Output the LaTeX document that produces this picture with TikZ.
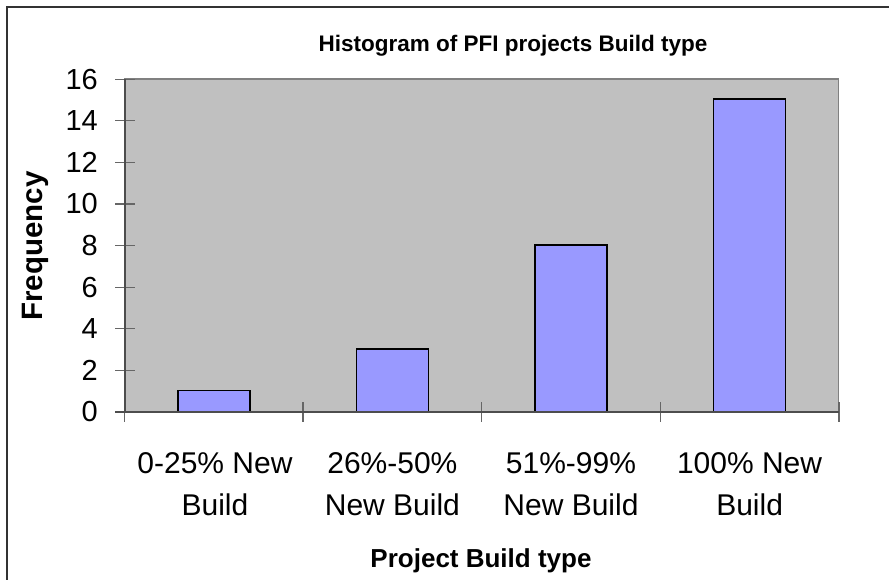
\documentclass[tikz,border=0pt]{standalone}
\usepackage{fontspec}
\setmainfont{Liberation Sans}
\definecolor{barblue}{HTML}{9999FF}
\definecolor{plotgray}{HTML}{C0C0C0}
\definecolor{bordergray}{HTML}{808080}
\definecolor{axisgray}{HTML}{4D4D4D}
\definecolor{tickgray}{HTML}{666666}
\definecolor{framegray}{HTML}{333333}
\begin{document}
\begin{tikzpicture}[x=1pt,y=-1pt,
  barbox/.style={draw=black, line width=1.5pt, fill=barblue, minimum width=72pt, inner sep=0pt, anchor=south},
  ticklbl/.style={anchor=east, inner sep=0pt, font=\fontsize{29}{34}\selectfont},
  catlbl/.style={anchor=base, inner sep=0pt, font=\fontsize{30}{36}\selectfont},
  axisline/.style={draw=axisgray, line width=1.3pt},
  tickline/.style={draw=tickgray, line width=1.3pt},
  boldlbl/.style={inner sep=0pt, font=\bfseries\fontsize{#1}{#1}\selectfont}
]
\pgfmathsetmacro{\u}{20.8}
\useasboundingbox (0,0) rectangle (889,580);
\fill[white] (0,0) rectangle (889,580);
% outer chart frame (cropped at right and bottom)
\draw[draw=framegray, line width=2pt] (7,580) -- (7,7) -- (889,7);
% plot area
\draw[fill=plotgray, draw=bordergray, line width=1.5pt] (125,{412-16*\u}) rectangle (838.5,412);
% y ticks and labels
\foreach \v in {0,2,...,16}{
  \draw[tickline] (115,{412-\v*\u}) -- (135,{412-\v*\u});
  \node[ticklbl] (y\v) at (98,{412-\v*\u}) {\v};
}
% x ticks
\foreach \i in {0,1,2,3,4}{
  \draw[tickline] ({124.5+\i*178.6},402) -- ({124.5+\i*178.6},422);
}
% bars
\node[barbox, minimum height={1*\u pt}]  (bar1) at (213.8,412) {};
\node[barbox, minimum height={3*\u pt}]  (bar2) at (392.4,412) {};
\node[barbox, minimum height={8*\u pt}]  (bar3) at (571.0,412) {};
\node[barbox, minimum height={15*\u pt}] (bar4) at (749.6,412) {};
% axes
\draw[axisline] (125,{412-16*\u}) -- (125,412);
\draw[axisline] (115,412) -- (839,412);
% category labels
\node[catlbl] (c1a) at (215,473) {0-25\% New};
\node[catlbl] (c1b) at (215,515) {Build};
\node[catlbl] (c2a) at (392.4,473) {26\%-50\%};
\node[catlbl] (c2b) at (392.4,515) {New Build};
\node[catlbl] (c3a) at (571.0,473) {51\%-99\%};
\node[catlbl] (c3b) at (571.0,515) {New Build};
\node[catlbl] (c4a) at (749.6,473) {100\% New};
\node[catlbl] (c4b) at (749.6,515) {Build};
% titles
\node[boldlbl=22.5, anchor=base] (title) at (513,52) {Histogram of PFI projects Build type};
\node[boldlbl=29.5, anchor=base, rotate=90] (ytitle) at (42,246) {Frequency};
\node[boldlbl=26, anchor=base] (xtitle) at (481,567) {Project Build type};
\end{tikzpicture}
\end{document}
